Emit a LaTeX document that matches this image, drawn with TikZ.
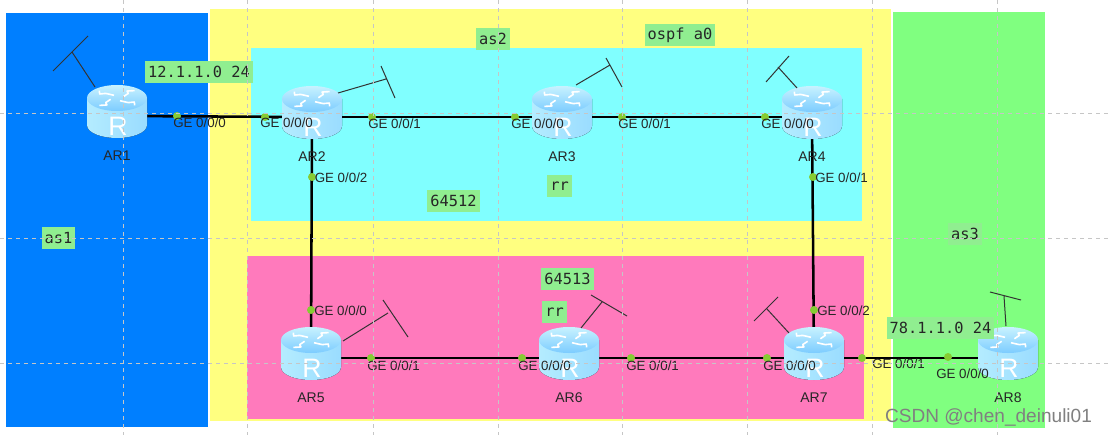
\documentclass[tikz,border=0pt]{standalone}
\usepackage{fontspec}
\setmainfont{Liberation Sans}
\setmonofont{DejaVu Sans Mono}
\usepackage{tikz}
\usetikzlibrary{backgrounds}
\pgfdeclarelayer{links}
\pgfsetlayers{background,links,main}
\definecolor{asone}{HTML}{007FFF}
\definecolor{astwo}{HTML}{FFFF80}
\definecolor{asthree}{HTML}{80FF80}
\definecolor{aream}{HTML}{80FFFF}
\definecolor{areab}{HTML}{FF7ABC}
\definecolor{tagfill}{HTML}{90EE90}
\definecolor{portc}{HTML}{86CC33}
\definecolor{routerl}{HTML}{B4ECFF}
\definecolor{routerm}{HTML}{66B8FF}
\definecolor{routerr}{HTML}{9ADCFF}
\definecolor{roofa}{HTML}{C8F2FF}
\definecolor{roofb}{HTML}{7CCCFF}
\tikzset{
  tag/.style    = {fill=tagfill, font=\fontsize{11.5}{13}\ttfamily, text=black!85,
                   inner sep=2.2pt, minimum height=16.5pt},
  port/.style   = {circle, fill=portc, inner sep=0pt, minimum size=6pt},
  iface/.style  = {font=\fontsize{10}{12}\selectfont, text=black!85, inner sep=0pt, anchor=west},
  link/.style   = {draw=black, line width=1.9pt},
  ant/.style    = {draw=black!80, line width=.75pt},
  gridl/.style  = {draw=gray!45, dashed, line width=.4pt},
  router/.style = {minimum width=45pt, minimum height=46.5pt, inner sep=0pt,
    label={[font=\fontsize{10.5}{12}\selectfont, text=black!85, inner sep=0pt, label distance=2.5pt]below:#1},
    path picture={
        \fill[left color=routerl, middle color=routerm, right color=routerr]
          (-30,-18) -- (-30,9) .. controls (-30,17) and (-15,22) .. (0,22)
          .. controls (15,22) and (30,17) .. (30,9) -- (30,-18) -- cycle;
        \shade[top color=roofa, bottom color=roofb]
          (0,-18) ellipse [x radius=22.5pt, y radius=9.75pt];
        \foreach \a in {45,135,225,315}{
          \draw[white, line width=1.2pt, line join=round]
            ({7*cos(\a+20)},{-18+3*sin(\a+20)}) -- ({16*cos(\a)},{-18+6.5*sin(\a)})
            -- ({20*cos(\a-15)},{-18+8*sin(\a-15)}) -- ({25*cos(\a)},{-18+10.5*sin(\a)});
        }
        \node[text=white, font=\fontsize{20}{21}\selectfont, inner sep=0pt] at (1,10) {R};
    }},
}
\begin{document}
\begin{tikzpicture}[x=.75pt,y=-.75pt]
\useasboundingbox (0,0) rectangle (1108,435);

\begin{pgfonlayer}{background}
\fill[white] (0,0) rectangle (1108,435);
\fill[asone] (6,13) rectangle (208,427);
\fill[astwo] (210,9) rectangle (891,421);
\fill[asthree] (893,12) rectangle (1045,428);
\fill[aream] (251,48) rectangle (862,221);
\fill[areab] (247,256) rectangle (864,419);
\end{pgfonlayer}

\node[router=AR1] (ar1) at (117,116) {};
\node[router=AR2] (ar2) at (312,117) {};
\node[router=AR3] (ar3) at (562,117) {};
\node[router=AR4] (ar4) at (812,117) {};
\node[router=AR5] (ar5) at (311,358) {};
\node[router=AR6] (ar6) at (569,358) {};
\node[router=AR7] (ar7) at (814,358) {};
\node[router=AR8] (ar8) at (1008,358) {};

\begin{pgfonlayer}{links}
\foreach \a/\b in {ar1/ar2, ar2/ar3, ar3/ar4, ar2/ar5, ar4/ar7, ar5/ar6, ar6/ar7, ar7/ar8}{\draw[link] (\a.center) -- (\b.center);}
\end{pgfonlayer}

% antennas
\foreach \sx/\sy/\ex/\ey/\ax/\ay/\bx/\by in {95/87/72/52/53/71/88/36, 338/93/386/79/381/66/395/98,
    576/85/610/65/606/58/622/87, 797/88/778/67/766/82/789/56, 343/341/388/313/383/300/408/337,
    581/328/602/302/591/295/627/316, 789/333/767/309/754/321/778/297, 1006/326/1004/296/990/292/1021/300}{
  \draw[ant] (\sx,\sy) -- (\ex,\ey) (\ax,\ay) -- (\bx,\by);
}

% interfaces
\foreach \n/\dx/\dy in {1/177/116, 2/265/117, 3/372/117, 4/515/117, 5/622/117, 6/765/117,
    7/312/177, 8/813/177, 9/311/310, 10/371/358, 11/522/358, 12/631/358,
    13/767/358, 14/814/310, 15/862/358, 16/948/357}{
  \node[port] (p\n) at (\dx,\dy) {};
}
\foreach \lx/\ly/\t in {173/123/0, 260/123/0, 368/124/1, 511/124/0, 618/124/1, 761/124/0,
    314.5/178/2, 815/178/1, 314/311/0, 367/366/1, 518/366/0, 626/366/1,
    763/366/0, 817/311/2, 872/364/1, 936/374/0}{
  \node[iface] at (\lx,\ly) {GE 0/0/\t};
}

\node[tag] (net1) at (199,72) {12.1.1.0 24};
\node[tag] (as2) at (493,39) {as2};
\node[tag] (ospf) at (680,35) {ospf a0};
\node[tag] (rr1) at (559.5,186) {rr};
\node[tag] (asn1) at (453.5,201) {64512};
\node[tag] (as1) at (58.5,238) {as1};
\node[tag] (as3) at (965,234) {as3};
\node[tag] (asn2) at (567.5,279) {64513};
\node[tag] (rr2) at (554.5,312) {rr};
\node[tag] (net2) at (940.5,328) {78.1.1.0 24};

% grid
\foreach \x in {123,247,373,498,622,747,872,997}{\draw[gridl] (\x,0) -- (\x,435);}
\foreach \y in {113,238,363}{\draw[gridl] (0,\y) -- (1108,\y);}

\node[text=gray, font=\fontsize{14.3}{16}\selectfont, inner sep=0pt] (mark) at (988.5,417) {CSDN @chen\_deinuli01};
\end{tikzpicture}
\end{document}
